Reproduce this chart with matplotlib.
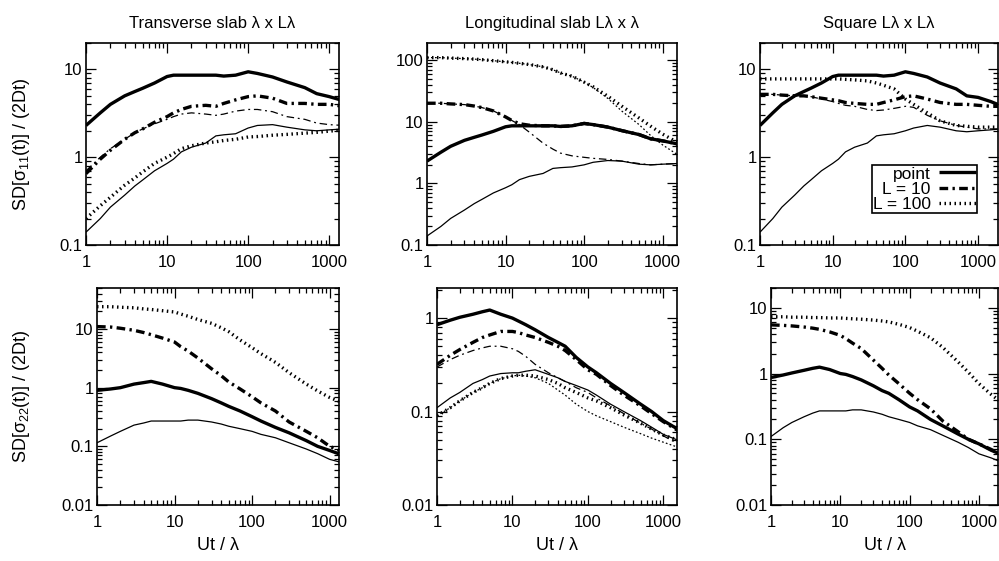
import matplotlib
matplotlib.use("Agg")
import matplotlib.pyplot as plt
from matplotlib.ticker import LogLocator, FuncFormatter, NullFormatter

plt.rcParams['font.family'] = ['Liberation Sans', 'DejaVu Sans']
plt.rcParams['mathtext.default'] = 'regular'

# Ut / lambda sample points shared by every curve
x = [1, 1.5, 2, 3, 4, 5, 7, 10, 12, 15, 20, 30, 40, 50, 70, 100, 130, 200, 300, 500, 700, 1000, 1500, 2000]

# --- SD[sigma_11] / (2Dt) ---
# transverse slab
tl_point = [2.3, 3.2, 4.0, 5.0, 5.6, 6.1, 7.0, 8.3, 8.6, 8.6, 8.6, 8.6, 8.6, 8.4, 8.6, 9.4, 9.0, 8.2, 7.2, 6.2, 5.3, 4.9, 4.4, 4.0]
tl_point_thin = [0.14, 0.2, 0.27, 0.37, 0.47, 0.55, 0.7, 0.85, 0.95, 1.15, 1.3, 1.45, 1.75, 1.8, 1.85, 2.15, 2.3, 2.35, 2.2, 2.05, 2.0, 2.05, 2.1, 2.1]
tl_l10 = [0.65, 0.95, 1.2, 1.6, 1.9, 2.1, 2.5, 2.9, 3.2, 3.5, 3.8, 3.9, 3.8, 4.1, 4.5, 4.9, 5.0, 4.7, 4.1, 4.1, 4.0, 4.0, 3.8, 3.8]
tl_l10_thin = [0.7, 1.0, 1.25, 1.6, 1.9, 2.1, 2.4, 2.7, 2.9, 3.1, 3.2, 3.1, 3.0, 3.1, 3.35, 3.5, 3.5, 3.3, 2.9, 2.7, 2.45, 2.35, 2.3, 2.3]
tl_l100 = [0.2, 0.28, 0.35, 0.48, 0.58, 0.68, 0.85, 1.0, 1.1, 1.25, 1.35, 1.45, 1.5, 1.55, 1.6, 1.7, 1.72, 1.78, 1.82, 1.88, 1.92, 1.98, 2.05, 2.1]
tl_l100_thin = None

# longitudinal slab
tm_point = [2.3, 3.2, 4.0, 5.0, 5.6, 6.1, 7.0, 8.3, 8.6, 8.6, 8.6, 8.6, 8.6, 8.4, 8.6, 9.4, 9.0, 8.2, 7.2, 6.2, 5.3, 4.9, 4.4, 4.0]
tm_point_thin = [0.14, 0.2, 0.27, 0.37, 0.47, 0.55, 0.7, 0.85, 0.95, 1.15, 1.3, 1.45, 1.75, 1.8, 1.85, 2.0, 2.2, 2.35, 2.3, 2.05, 2.0, 2.05, 2.1, 2.1]
tm_l10 = [20, 20, 19.5, 19, 18, 17, 15, 12, 10.5, 9.3, 8.8, 8.6, 8.6, 8.4, 8.6, 9.4, 9.0, 8.2, 7.2, 6.2, 5.3, 4.9, 4.4, 4.0]
tm_l10_thin = [20, 20, 19.5, 19, 18, 17, 15, 12, 10.5, 9.0, 6.8, 4.5, 3.6, 3.1, 2.8, 2.65, 2.55, 2.45, 2.3, 2.1, 2.0, 2.05, 2.1, 2.1]
tm_l100 = [110, 110, 108, 106, 104, 102, 98, 94, 92, 89, 85, 78, 70, 62, 55, 44, 37, 26, 18, 11.5, 8.5, 6.3, 4.7, 4.0]
tm_l100_thin = [110, 110, 108, 106, 104, 102, 98, 94, 92, 89, 85, 78, 70, 62, 55, 44, 36, 24, 15, 9, 6, 4.2, 3.0, 2.6]

# square
tr_point = [2.3, 3.2, 4.0, 5.0, 5.6, 6.1, 7.0, 8.3, 8.6, 8.6, 8.6, 8.6, 8.6, 8.4, 8.6, 9.4, 9.0, 8.2, 7.0, 6.0, 5.0, 4.8, 4.3, 3.9]
tr_point_thin = [0.14, 0.2, 0.27, 0.37, 0.47, 0.55, 0.7, 0.85, 0.95, 1.15, 1.3, 1.45, 1.75, 1.8, 1.85, 2.0, 2.15, 2.3, 2.2, 2.0, 1.95, 2.0, 2.05, 2.1]
tr_l10 = [5.2, 5.2, 5.1, 5.0, 5.0, 4.9, 4.7, 4.5, 4.4, 4.2, 4.1, 4.0, 4.0, 4.2, 4.5, 4.9, 5.0, 4.6, 4.2, 4.0, 4.0, 3.9, 3.8, 3.8]
tr_l10_thin = [5.2, 5.2, 5.1, 5.0, 5.0, 4.9, 4.6, 4.3, 4.1, 3.9, 3.8, 3.5, 3.4, 3.45, 3.6, 3.8, 3.7, 3.0, 2.6, 2.3, 2.2, 2.1, 2.1, 2.1]
tr_l100 = [7.8, 7.8, 7.8, 7.8, 7.8, 7.8, 7.8, 7.8, 7.8, 7.7, 7.6, 7.4, 7.0, 6.6, 6.0, 4.6, 4.0, 3.2, 2.6, 2.3, 2.25, 2.2, 2.2, 2.2]
tr_l100_thin = None

# --- SD[sigma_22] / (2Dt) ---
bl_point = [0.9, 0.95, 1.0, 1.15, 1.22, 1.28, 1.15, 1.0, 0.97, 0.9, 0.8, 0.65, 0.55, 0.48, 0.4, 0.32, 0.27, 0.21, 0.17, 0.125, 0.1, 0.085, 0.07, 0.062]
bl_point_thin = [0.115, 0.15, 0.18, 0.23, 0.25, 0.27, 0.27, 0.27, 0.27, 0.28, 0.28, 0.26, 0.24, 0.22, 0.2, 0.18, 0.16, 0.14, 0.115, 0.09, 0.075, 0.06, 0.052, 0.047]
bl_l10 = [11, 10.8, 10.3, 9.5, 8.7, 8, 7, 6, 5.0, 4.2, 3.2, 2.1, 1.6, 1.25, 0.95, 0.7, 0.55, 0.4, 0.26, 0.18, 0.14, 0.1, 0.08, 0.07]
bl_l10_thin = None
bl_l100 = [24, 24, 23.5, 23, 22, 21.5, 20.5, 19.5, 18, 16.5, 14.5, 12.5, 10.5, 9, 6.5, 4.8, 3.8, 2.7, 1.8, 1.15, 0.88, 0.68, 0.55, 0.48]
bl_l100_thin = None

bm_point = [0.85, 0.95, 1.02, 1.1, 1.17, 1.22, 1.1, 1.0, 0.93, 0.85, 0.75, 0.62, 0.55, 0.5, 0.38, 0.3, 0.26, 0.2, 0.16, 0.12, 0.1, 0.08, 0.066, 0.06]
bm_point_thin = [0.11, 0.14, 0.16, 0.2, 0.22, 0.24, 0.255, 0.26, 0.26, 0.27, 0.28, 0.25, 0.23, 0.21, 0.19, 0.17, 0.15, 0.12, 0.1, 0.08, 0.068, 0.057, 0.05, 0.045]
bm_l10 = [0.32, 0.4, 0.46, 0.55, 0.62, 0.66, 0.72, 0.72, 0.7, 0.66, 0.62, 0.55, 0.5, 0.45, 0.36, 0.28, 0.25, 0.19, 0.15, 0.115, 0.095, 0.078, 0.064, 0.058]
bm_l10_thin = [0.3, 0.36, 0.4, 0.45, 0.48, 0.5, 0.5, 0.47, 0.44, 0.39, 0.32, 0.26, 0.23, 0.21, 0.18, 0.16, 0.14, 0.115, 0.095, 0.075, 0.065, 0.055, 0.046, 0.042]
bm_l100 = [0.09, 0.11, 0.13, 0.16, 0.18, 0.2, 0.225, 0.24, 0.245, 0.245, 0.24, 0.22, 0.2, 0.18, 0.16, 0.14, 0.13, 0.11, 0.092, 0.075, 0.065, 0.056, 0.05, 0.046]
bm_l100_thin = [0.09, 0.11, 0.13, 0.16, 0.18, 0.2, 0.225, 0.24, 0.245, 0.24, 0.23, 0.2, 0.17, 0.15, 0.12, 0.1, 0.09, 0.078, 0.068, 0.058, 0.052, 0.047, 0.042, 0.039]

br_point = [0.87, 0.95, 1.02, 1.12, 1.2, 1.25, 1.15, 1.0, 0.97, 0.9, 0.8, 0.65, 0.55, 0.5, 0.4, 0.31, 0.27, 0.2, 0.16, 0.12, 0.1, 0.085, 0.068, 0.06]
br_point_thin = [0.11, 0.15, 0.18, 0.22, 0.25, 0.27, 0.27, 0.27, 0.27, 0.28, 0.28, 0.26, 0.24, 0.22, 0.2, 0.18, 0.16, 0.14, 0.115, 0.09, 0.075, 0.06, 0.052, 0.046]
br_l10 = [5.5, 5.4, 5.3, 5.1, 4.9, 4.7, 4.3, 3.8, 3.4, 2.9, 2.4, 1.6, 1.2, 0.95, 0.7, 0.5, 0.4, 0.29, 0.19, 0.13, 0.1, 0.085, 0.07, 0.06]
br_l10_thin = None
br_l100 = [7.3, 7.3, 7.2, 7.2, 7.1, 7.1, 7.0, 7.0, 6.9, 6.8, 6.7, 6.5, 6.3, 6.1, 5.6, 5.0, 4.4, 3.5, 2.5, 1.5, 1.05, 0.7, 0.48, 0.38]
br_l100_thin = None

titles = ["Transverse slab λ x Lλ", "Longitudinal slab Lλ x λ", "Square Lλ x Lλ"]
ylabels = ["SD[σ$_{11}$(t)] / (2Dt)", "SD[σ$_{22}$(t)] / (2Dt)"]
legend_labels = ["point", "L = 10", "L = 100"]

panels = [
    [(tl_point, tl_point_thin, tl_l10, tl_l10_thin, tl_l100, tl_l100_thin),
     (tm_point, tm_point_thin, tm_l10, tm_l10_thin, tm_l100, tm_l100_thin),
     (tr_point, tr_point_thin, tr_l10, tr_l10_thin, tr_l100, tr_l100_thin)],
    [(bl_point, bl_point_thin, bl_l10, bl_l10_thin, bl_l100, bl_l100_thin),
     (bm_point, bm_point_thin, bm_l10, bm_l10_thin, bm_l100, bm_l100_thin),
     (br_point, br_point_thin, br_l10, br_l10_thin, br_l100, br_l100_thin)],
]

ylims = [[(0.1, 20), (0.1, 190), (0.1, 20)],
         [(0.01, 50), (0.01, 2.1), (0.01, 20)]]
xmax = [1320, 1520, 1880]

# axes boxes in pixels: left, right, top, bottom
W, H = 999, 561
boxes = [[(86, 339, 43, 245), (427, 677, 43, 245), (760, 998, 43, 245)],
         [(97, 339, 288, 505), (437, 677, 288, 505), (771, 998, 288, 505)]]

thick = 2.4
thin = 0.9
styles = [
    dict(lw=thick, ls='-'),
    dict(lw=thin, ls='-'),
    dict(lw=thick, ls=(0, (2.6, 1.3, 0.7, 1.3))),
    dict(lw=thin, ls=(0, (6, 3, 1.5, 3))),
    dict(lw=thick, ls=(0, (0.45, 1.05))),
    dict(lw=thin, ls=(0, (1.4, 1.8))),
]

fig = plt.figure(figsize=(W / 100, H / 100), dpi=100)
fmt = FuncFormatter(lambda v, p: f"{v:g}")

for r in range(2):
    for c in range(3):
        l, rr, t, b = boxes[r][c]
        ax = fig.add_axes([l / W, 1 - b / H, (rr - l) / W, (b - t) / H])
        handles = []
        for data, st in zip(panels[r][c], styles):
            if data is None:
                continue
            ln, = ax.plot(x, data, color='black', solid_capstyle='butt',
                          dash_capstyle='butt', **st)
            handles.append(ln)
        ax.set_xscale('log')
        ax.set_yscale('log')
        ax.set_xlim(1, xmax[c])
        ax.set_ylim(*ylims[r][c])
        for a in (ax.xaxis, ax.yaxis):
            a.set_major_locator(LogLocator(base=10))
            a.set_minor_locator(LogLocator(base=10, subs=range(2, 10)))
            a.set_major_formatter(fmt)
            a.set_minor_formatter(NullFormatter())
        ax.tick_params(which='both', direction='in', top=True, right=True,
                       labelsize=12, width=0.9)
        ax.tick_params(which='major', length=7)
        ax.tick_params(which='minor', length=3.5)
        ax.tick_params(axis='y', pad=2.5)
        ax.tick_params(axis='x', pad=7)
        for s in ax.spines.values():
            s.set_linewidth(1.2)
        if r == 0:
            ax.set_title(titles[c], fontsize=12, pad=11)
        else:
            ax.set_xlabel("Ut / λ", fontsize=13, labelpad=5)
        if c == 0:
            ax.set_ylabel(ylabels[r], fontsize=13)
            ax.yaxis.set_label_coords(-0.215 if r == 0 else -0.27, 0.5)
        if r == 0 and c == 2:
            legend_handles = [handles[0], handles[2], handles[4]]
            leg = ax.legend(legend_handles, legend_labels, loc='lower right',
                            bbox_to_anchor=(0.91, 0.16), markerfirst=False,
                            fontsize=12.5, frameon=True, fancybox=False,
                            edgecolor='black', framealpha=1, borderpad=0.05,
                            labelspacing=0.0, handlelength=2.1,
                            handletextpad=0.5, borderaxespad=0)
            leg.get_frame().set_linewidth(1.2)

fig.savefig("out.png", dpi=100)
